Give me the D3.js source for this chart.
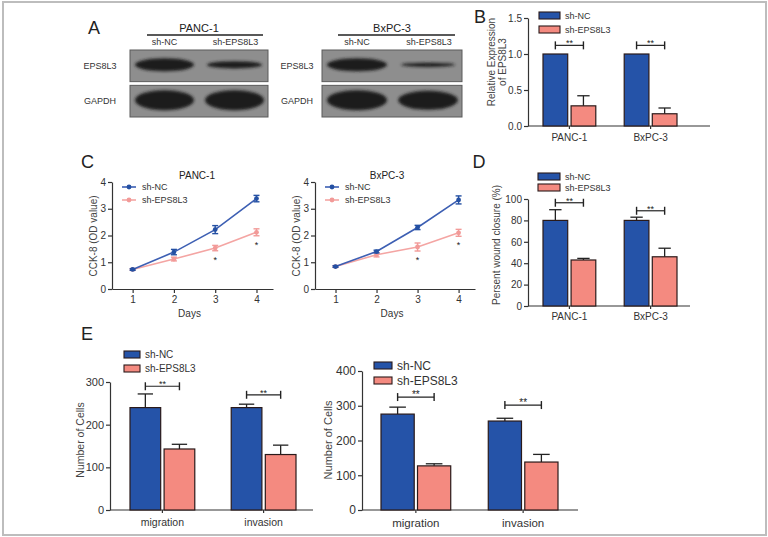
<!DOCTYPE html>
<html><head><meta charset="utf-8">
<script src="https://cdn.jsdelivr.net/npm/d3@7"></script>
<style>body{margin:0;background:#fff}svg{display:block;font-family:"Liberation Sans",Arial,sans-serif}</style>
</head><body><svg id="c" width="768" height="537"></svg>
<script>
// ---------- DATA ----------
const series = ["sh-NC", "sh-EPS8L3"];
const cellLines = ["PANC-1", "BxPC-3"];
const assays = ["migration", "invasion"];
const blotRows = ["EPS8L3", "GAPDH"];
// A: western blot relative band intensity (sh-NC, sh-EPS8L3)
const blotPanc1EPS8L3 = [1.0, 0.55];
const blotPanc1GAPDH = [1.0, 1.0];
const blotBxpc3EPS8L3 = [1.0, 0.32];
const blotBxpc3GAPDH = [1.0, 0.95];
// B: relative expression of EPS8L3
const relNC = [1.0, 1.0];
const relNCErr = [0, 0];
const relKD = [0.28, 0.17];
const relKDErr = [0.14, 0.08];
const relTicks = [0, 0.5, 1.0, 1.5];
// C: CCK-8
const days = [1, 2, 3, 4];
const cckTicks = [0, 1, 2, 3, 4];
const cckPanc1NC = [0.73, 1.38, 2.22, 3.38];
const cckPanc1NCErr = [0.03, 0.1, 0.15, 0.12];
const cckPanc1KD = [0.73, 1.12, 1.53, 2.12];
const cckPanc1KDErr = [0.03, 0.07, 0.1, 0.13];
const cckBxpc3NC = [0.84, 1.4, 2.3, 3.33];
const cckBxpc3NCErr = [0.03, 0.05, 0.08, 0.15];
const cckBxpc3KD = [0.84, 1.28, 1.57, 2.1];
const cckBxpc3KDErr = [0.03, 0.08, 0.15, 0.13];
const cckStarDays = [3, 4];
// D: wound closure
const woundNC = [80, 80];
const woundNCErr = [10, 3];
const woundKD = [43, 46];
const woundKDErr = [1.5, 8];
const woundTicks = [0, 20, 40, 60, 80, 100];
// E: number of cells
const cellsLNC = [240, 240];
const cellsLNCErr = [32, 8];
const cellsLKD = [143, 130];
const cellsLKDErr = [11, 22];
const cellsLTicks = [0, 100, 200, 300];
const cellsRNC = [276, 256];
const cellsRNCErr = [20, 8];
const cellsRKD = [127, 138];
const cellsRKDErr = [6, 22];
const cellsRTicks = [0, 100, 200, 300, 400];

// ---------- STYLE ----------
const BLUE = "#2553a8", PINK = "#f48a80", INK = "#333";
const LBLUE = "#3d5fb3", LPINK = "#f4a5a3";

const svg = d3.select("#c");
svg.append("rect").attr("x", 3).attr("y", 2).attr("width", 763).attr("height", 533)
  .attr("fill", "#fff").attr("stroke", "#bdbdbd").attr("stroke-width", 2);

const defs = svg.append("defs");
defs.append("filter").attr("id", "blur").attr("x", "-20%").attr("y", "-60%").attr("width", "140%").attr("height", "220%")
  .append("feGaussianBlur").attr("stdDeviation", 1.6);

function letter(t, x, y) {
  svg.append("text").attr("x", x).attr("y", y).attr("text-anchor", "middle")
    .attr("font-size", 18).attr("fill", "#222").text(t);
}
letter("A", 94, 34); letter("B", 480, 23); letter("C", 87.5, 168);
letter("D", 479, 168); letter("E", 87, 340);

// ---------- A: blots ----------
function blot(o) {
  const g = svg.append("g");
  const [x0, x1] = o.box;
  g.append("text").attr("x", (x0 + x1) / 2).attr("y", 32).attr("text-anchor", "middle")
    .attr("font-size", 11).attr("fill", "#222").text(o.title);
  g.append("line").attr("x1", o.line[0]).attr("x2", o.line[1]).attr("y1", 35).attr("y2", 35)
    .attr("stroke", "#222").attr("stroke-width", 1.4);
  const lane = d3.scaleBand().domain(series).range([x0, x1]);
  series.forEach((s, i) => {
    g.append("text").attr("x", lane(s) + lane.bandwidth() / 2 + (i ? 2 : 0)).attr("y", 45)
      .attr("text-anchor", "middle").attr("font-size", 9).attr("fill", "#333").text(s);
  });
  const rowY = d3.scaleBand().domain(blotRows).range([50, 117]).paddingInner(0.105);
  const maxRy = { EPS8L3: 6.5, GAPDH: 10 };
  blotRows.forEach((r, ri) => {
    const yy = rowY(r), h = rowY.bandwidth();
    g.append("text").attr("x", o.labelX).attr("y", yy + h / 2 + 3).attr("text-anchor", "middle")
      .attr("font-size", 9).attr("fill", "#333").text(r);
    g.append("rect").attr("x", x0).attr("y", yy).attr("width", x1 - x0).attr("height", h)
      .attr("fill", "#8e8e8e").attr("stroke", "#5a5a5a").attr("stroke-width", 1);
    const vals = o.vals[ri];
    series.forEach((s, i) => {
      const v = vals[i];
      const rx = lane.bandwidth() / 2 - 5 - (1 - v) * 4;
      g.append("ellipse").attr("cx", lane(s) + lane.bandwidth() / 2 + (i ? 1 : 0))
        .attr("cy", yy + h / 2 - 1).attr("rx", rx).attr("ry", Math.max(1.6, maxRy[r] * v))
        .attr("fill", "#1c1c1c").attr("filter", "url(#blur)");
    });
  });
}
blot({ title: "PANC-1", box: [130, 268], line: [147, 263], labelX: 100, vals: [blotPanc1EPS8L3, blotPanc1GAPDH] });
blot({ title: "BxPC-3", box: [322, 462], line: [338, 455], labelX: 297, vals: [blotBxpc3EPS8L3, blotBxpc3GAPDH] });

// ---------- bar chart helper ----------
function barChart(o) {
  const g = svg.append("g");
  const y = d3.scaleLinear().domain([0, o.ticks[o.ticks.length - 1]]).range(o.yRange);
  const xc = d3.scaleBand().domain(o.cats).range(o.barRange).paddingInner(o.catPad);
  const xs = d3.scaleBand().domain(series).range([0, xc.bandwidth()]).paddingInner(o.serPad);
  const ya = g.append("g").attr("transform", `translate(${o.axisX[0]},0)`)
    .call(d3.axisLeft(y).tickValues(o.ticks).tickFormat(o.fmt).tickSize(4).tickSizeOuter(0).tickPadding(2));
  ya.selectAll("path,line").attr("stroke", INK).attr("stroke-width", 1.2);
  ya.selectAll("text").attr("font-size", o.fs).attr("fill", INK).attr("font-family", "Liberation Sans, Arial");
  g.append("line").attr("x1", o.axisX[0]).attr("x2", o.axisX[1]).attr("y1", y(0)).attr("y2", y(0))
    .attr("stroke", INK).attr("stroke-width", 1.2);
  o.cats.forEach(c => {
    const cx = xc(c) + xc.bandwidth() / 2;
    g.append("line").attr("x1", cx).attr("x2", cx).attr("y1", y(0)).attr("y2", y(0) + 3).attr("stroke", INK).attr("stroke-width", 1.2);
    if (o.showCat) g.append("text").attr("x", cx).attr("y", o.catY).attr("text-anchor", "middle")
      .attr("font-size", o.catFs).attr("fill", INK).text(c);
  });
  const vals = [o.nc, o.kd], errs = [o.ncErr, o.kdErr], cols = [BLUE, PINK];
  o.cats.forEach((c, ci) => {
    series.forEach((s, si) => {
      const bx = xc(c) + xs(s), bw = xs.bandwidth(), v = vals[si][ci], e = errs[si][ci];
      if (e > 0) {
        g.append("line").attr("x1", bx + bw / 2).attr("x2", bx + bw / 2).attr("y1", y(v)).attr("y2", y(v + e))
          .attr("stroke", "#222").attr("stroke-width", 1.3);
        g.append("line").attr("x1", bx + bw / 4).attr("x2", bx + 3 * bw / 4).attr("y1", y(v + e)).attr("y2", y(v + e))
          .attr("stroke", "#222").attr("stroke-width", 1.3);
      }
      g.append("rect").attr("x", bx).attr("y", y(v)).attr("width", bw).attr("height", y(0) - y(v))
        .attr("fill", cols[si]).attr("stroke", "#2a1a1a").attr("stroke-width", 1.2);
    });
    // bracket
    const a = xc(c) + xs(series[0]) + xs.bandwidth() / 2, b = xc(c) + xs(series[1]) + xs.bandwidth() / 2;
    const by = y(o.brackets[ci]);
    g.append("line").attr("x1", a).attr("x2", b).attr("y1", by).attr("y2", by).attr("stroke", "#222").attr("stroke-width", 1.2);
    [a, b].forEach(px => g.append("line").attr("x1", px).attr("x2", px).attr("y1", by - 4).attr("y2", by + 4)
      .attr("stroke", "#222").attr("stroke-width", 1.4));
    g.append("text").attr("x", (a + b) / 2).attr("y", by + 1).attr("text-anchor", "middle")
      .attr("font-size", o.starFs).attr("fill", "#222").text("**");
  });
  // legend
  series.forEach((s, i) => {
    const ly = o.leg.y[i];
    g.append("rect").attr("x", o.leg.x).attr("y", ly).attr("width", o.leg.w).attr("height", o.leg.h)
      .attr("fill", cols[i]).attr("stroke", "#2a1a1a").attr("stroke-width", 1.1);
    g.append("text").attr("x", o.leg.x + o.leg.w + 5).attr("y", ly + o.leg.h / 2 + o.leg.fs * 0.36)
      .attr("font-size", o.leg.fs).attr("fill", INK).text(s);
  });
  // y title
  o.ytitle.forEach((t, i) => {
    g.append("text").attr("transform", `translate(${o.ytx[i]},${o.yty}) rotate(-90)`).attr("text-anchor", "middle")
      .attr("font-size", o.ytFs).attr("fill", "#444").text(t);
  });
}

// B
barChart({ cats: cellLines, nc: relNC, ncErr: relNCErr, kd: relKD, kdErr: relKDErr, ticks: relTicks,
  fmt: d3.format(".1f"), yRange: [126, 18], barRange: [543, 677], catPad: 0.35, serPad: 0.12,
  axisX: [528, 710], fs: 10, showCat: true, catY: 141, catFs: 10, brackets: [1.12, 1.12], starFs: 9,
  leg: { x: 539, y: [12, 26], w: 21, h: 7, fs: 9 }, ytitle: ["Relative Expression", "of EPS8L3"],
  ytx: [495, 506], yty: 62, ytFs: 10 });
// D
barChart({ cats: cellLines, nc: woundNC, ncErr: woundNCErr, kd: woundKD, kdErr: woundKDErr, ticks: woundTicks,
  fmt: d3.format("d"), yRange: [306, 199], barRange: [543, 677], catPad: 0.35, serPad: 0.12,
  axisX: [528, 690], fs: 10, showCat: true, catY: 320, catFs: 10, brackets: [96.5, 89], starFs: 9,
  leg: { x: 538, y: [173, 184], w: 22, h: 7, fs: 9 }, ytitle: ["Persent wound closure (%)"],
  ytx: [500], yty: 245, ytFs: 10 });
// E left
barChart({ cats: assays, nc: cellsLNC, ncErr: cellsLNCErr, kd: cellsLKD, kdErr: cellsLKDErr, ticks: cellsLTicks,
  fmt: d3.format("d"), yRange: [510, 382], barRange: [130, 296], catPad: 0.36, serPad: 0.1,
  axisX: [110, 313], fs: 11, showCat: true, catY: 526, catFs: 10.5, brackets: [290, 270], starFs: 9,
  leg: { x: 124, y: [351, 365], w: 16, h: 7, fs: 10 }, ytitle: ["Number of Cells"],
  ytx: [84], yty: 440, ytFs: 10.5 });
// E right
barChart({ cats: assays, nc: cellsRNC, ncErr: cellsRNCErr, kd: cellsRKD, kdErr: cellsRKDErr, ticks: cellsRTicks,
  fmt: d3.format("d"), yRange: [510, 371], barRange: [381, 558], catPad: 0.35, serPad: 0.09,
  axisX: [362, 578], fs: 12, showCat: true, catY: 527, catFs: 11.5, brackets: [325, 302], starFs: 10,
  leg: { x: 374, y: [362, 377], w: 18, h: 7, fs: 12 }, ytitle: ["Number of Cells"],
  ytx: [332], yty: 440, ytFs: 11 });

// ---------- C: line charts ----------
function lineChart(o) {
  const g = svg.append("g");
  const x = d3.scaleLinear().domain([0.5, 4.4]).range(o.xRange);
  const y = d3.scaleLinear().domain([0, 4]).range([289, 182]);
  const ya = g.append("g").attr("transform", `translate(${o.xRange[0]},0)`)
    .call(d3.axisLeft(y).tickValues(cckTicks).tickFormat(d3.format("d")).tickSize(4).tickSizeOuter(0).tickPadding(2));
  const xa = g.append("g").attr("transform", `translate(0,${y(0)})`)
    .call(d3.axisBottom(x).tickValues(days).tickFormat(d3.format("d")).tickSize(4).tickSizeOuter(0).tickPadding(3));
  [ya, xa].forEach(a => {
    a.selectAll("path,line").attr("stroke", INK).attr("stroke-width", 1.2);
    a.selectAll("text").attr("font-size", 10).attr("fill", INK).attr("font-family", "Liberation Sans, Arial");
  });
  g.append("text").attr("x", (o.xRange[0] + o.xRange[1]) / 2 - 3).attr("y", 317).attr("text-anchor", "middle")
    .attr("font-size", 10).attr("fill", INK).text("Days");
  g.append("text").attr("x", o.titleX).attr("y", 179).attr("text-anchor", "middle")
    .attr("font-size", 10).attr("fill", "#222").text(o.title);
  g.append("text").attr("transform", `translate(${o.ytX},236) rotate(-90)`).attr("text-anchor", "middle")
    .attr("font-size", 10).attr("fill", "#444").text("CCK-8 (OD value)");
  const sets = [[o.kd, o.kdErr, LPINK, "#f29a98"], [o.nc, o.ncErr, LBLUE, "#2450a3"]];
  sets.forEach(([v, e, lc, mc]) => {
    g.append("path").datum(days).attr("fill", "none").attr("stroke", lc).attr("stroke-width", 1.6)
      .attr("d", d3.line().x(d => x(d)).y((d, i) => y(v[i])));
    days.forEach((d, i) => {
      const px = x(d);
      g.append("line").attr("x1", px).attr("x2", px).attr("y1", y(v[i] - e[i])).attr("y2", y(v[i] + e[i])).attr("stroke", mc).attr("stroke-width", 1.4);
      [v[i] - e[i], v[i] + e[i]].forEach(t => g.append("line").attr("x1", px - 3).attr("x2", px + 3)
        .attr("y1", y(t)).attr("y2", y(t)).attr("stroke", mc).attr("stroke-width", 1.4));
      g.append("circle").attr("cx", px).attr("cy", y(v[i])).attr("r", 2.4).attr("fill", mc);
    });
  });
  cckStarDays.forEach(d => {
    const i = days.indexOf(d);
    g.append("text").attr("x", x(d)).attr("y", y(o.kd[i] - o.kdErr[i]) + 12).attr("text-anchor", "middle")
      .attr("font-size", 9).attr("fill", "#222").text("*");
  });
  const legC = [[LBLUE, "#2450a3"], [LPINK, "#f29a98"]];
  series.forEach((s, i) => {
    const ly = 187 + i * 13, lx = o.xRange[0] + 10;
    g.append("line").attr("x1", lx).attr("x2", lx + 14).attr("y1", ly).attr("y2", ly).attr("stroke", legC[i][0]).attr("stroke-width", 1.6);
    g.append("circle").attr("cx", lx + 7).attr("cy", ly).attr("r", 2.4).attr("fill", legC[i][1]);
    g.append("text").attr("x", lx + 20).attr("y", ly + 3.2).attr("font-size", 9).attr("fill", INK).text(s);
  });
}
lineChart({ xRange: [112, 273], title: "PANC-1", titleX: 197, ytX: 97, nc: cckPanc1NC, ncErr: cckPanc1NCErr, kd: cckPanc1KD, kdErr: cckPanc1KDErr });
lineChart({ xRange: [315, 475], title: "BxPC-3", titleX: 387, ytX: 300, nc: cckBxpc3NC, ncErr: cckBxpc3NCErr, kd: cckBxpc3KD, kdErr: cckBxpc3KDErr });
</script></body></html>
